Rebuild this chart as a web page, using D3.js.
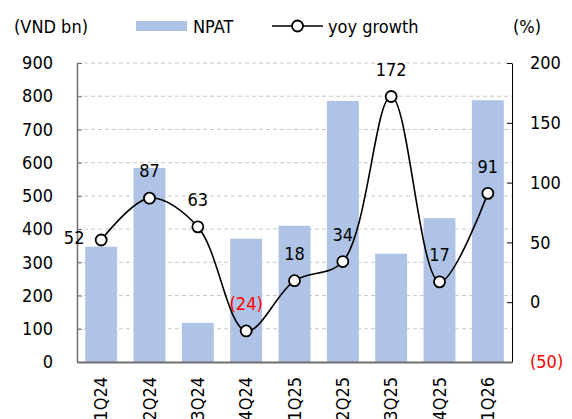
<!DOCTYPE html>
<html>
<head>
<meta charset="utf-8">
<script src="https://cdn.jsdelivr.net/npm/d3@7/dist/d3.min.js"></script>
<style>
  html, body { margin: 0; padding: 0; background: #fff; }
  svg text { font-family: "DejaVu Sans Condensed", "DejaVu Sans", sans-serif; }
</style>
</head>
<body>
<svg id="chart" width="572" height="419"></svg>
<script>
const quarters = ["1Q24","2Q24","3Q24","4Q24","1Q25","2Q25","3Q25","4Q25","1Q26"];
const npat = [347, 584, 118, 371, 410, 786, 326, 433, 788];
const yoyGrowth = [52, 87, 63, -24, 18, 34, 172, 17, 91];
const leftTicks = [0,100,200,300,400,500,600,700,800,900];
const rightTicks = [-50,0,50,100,150,200];
const legendLabels = ["NPAT", "yoy growth"];

(function () {
const svg = d3.select("#chart");
const pLeft = 77, pRight = 512, pTop = 63, pBottom = 362;
const fs = 18;
const ff = '"DejaVu Sans Condensed", "DejaVu Sans", sans-serif';
const barColor = "#aec3e6";

const x = d3.scaleBand().domain(quarters).range([pLeft, pRight]).paddingInner(0.34).paddingOuter(0.17);
const yL = d3.scaleLinear().domain([0, 900]).range([pBottom, pTop]);
const yR = d3.scaleLinear().domain([-50, 200]).range([pBottom, pTop]);

// gridlines
svg.append("g").selectAll("line").data(leftTicks.filter(d => d > 0)).join("line")
  .attr("x1", pLeft).attr("x2", pRight)
  .attr("y1", d => yL(d)).attr("y2", d => yL(d))
  .attr("stroke", "#c8c8c8").attr("stroke-width", 1).attr("stroke-dasharray", "4,3");

// bars
svg.append("g").selectAll("rect").data(quarters).join("rect")
  .attr("x", d => x(d)).attr("width", x.bandwidth())
  .attr("y", (d, i) => yL(npat[i])).attr("height", (d, i) => pBottom - yL(npat[i]))
  .attr("fill", barColor);

// left axis
const gL = svg.append("g").attr("transform", `translate(${pLeft},0)`)
  .call(d3.axisLeft(yL).tickValues(leftTicks).tickSizeInner(-5).tickSizeOuter(0).tickPadding(24));
gL.select(".domain").attr("stroke", "#6f6f6f").attr("stroke-width", 1.5);
gL.selectAll(".tick line").attr("stroke", "#6f6f6f");
gL.selectAll(".tick text").attr("font-size", fs).attr("fill", "#000").attr("font-family", ff);

// right axis
const gR = svg.append("g").attr("transform", `translate(${pRight},0)`)
  .call(d3.axisRight(yR).tickValues(rightTicks).tickSizeInner(-5).tickSizeOuter(0).tickPadding(18)
    .tickFormat(d => d < 0 ? `(${Math.abs(d)})` : d));
gR.select(".domain").attr("stroke", "#000").attr("stroke-width", 1);
gR.selectAll(".tick line").attr("stroke", "#000");
gR.selectAll(".tick text").attr("font-size", fs)
  .attr("fill", d => d < 0 ? "#ff0000" : "#000").attr("font-family", ff);

// bottom axis
const gB = svg.append("g").attr("transform", `translate(0,${pBottom})`)
  .call(d3.axisBottom(x).tickSize(0).tickPadding(0));
gB.select(".domain").attr("stroke", "#6f6f6f").attr("stroke-width", 2);
gB.selectAll(".tick text")
  .attr("font-size", fs).attr("fill", "#000").attr("font-family", ff)
  .attr("transform", "translate(0,15) rotate(-90)")
  .attr("text-anchor", "end").attr("dy", "0.35em").attr("y", 0).attr("x", 0);

// line
const cx = (d, i) => x(quarters[i]) + x.bandwidth() / 2;
const line = d3.line().x((d, i) => cx(d, i)).y(d => yR(d)).curve(d3.curveCatmullRom.alpha(0.5));
svg.append("path").datum(yoyGrowth).attr("d", line)
  .attr("fill", "none").attr("stroke", "#000").attr("stroke-width", 1.6);

svg.append("g").selectAll("circle").data(yoyGrowth).join("circle")
  .attr("cx", (d, i) => cx(d, i)).attr("cy", d => yR(d)).attr("r", 5.5)
  .attr("fill", "#fff").attr("stroke", "#000").attr("stroke-width", 1.8);

// data labels
const fmt = d => d < 0 ? `(${Math.abs(d)})` : `${d}`;
svg.append("g").selectAll("text").data(yoyGrowth).join("text")
  .attr("x", (d, i) => i === 0 ? cx(d, i) - 27 : cx(d, i))
  .attr("y", (d, i) => i === 0 ? yR(d) - 2 : yR(d) - 27)
  .attr("text-anchor", "middle").attr("dy", "0.35em")
  .attr("font-size", fs)
  .attr("fill", d => d < 0 ? "#ff0000" : "#000")
  .text(fmt);

// titles
svg.append("text").attr("x", 14).attr("y", 33).attr("font-size", fs).text("(VND bn)");
svg.append("text").attr("x", 513).attr("y", 33).attr("font-size", fs).text("(%)");

// legend
svg.append("rect").attr("x", 136).attr("y", 21).attr("width", 51).attr("height", 10).attr("fill", barColor);
svg.append("text").attr("x", 193).attr("y", 33).attr("font-size", fs).text(legendLabels[0]);
svg.append("line").attr("x1", 272).attr("x2", 323).attr("y1", 26).attr("y2", 26)
  .attr("stroke", "#000").attr("stroke-width", 1.6);
svg.append("circle").attr("cx", 297.5).attr("cy", 26).attr("r", 5.5)
  .attr("fill", "#fff").attr("stroke", "#000").attr("stroke-width", 1.8);
svg.append("text").attr("x", 328).attr("y", 33).attr("font-size", fs).text(legendLabels[1]);
})();
</script>
</body>
</html>
